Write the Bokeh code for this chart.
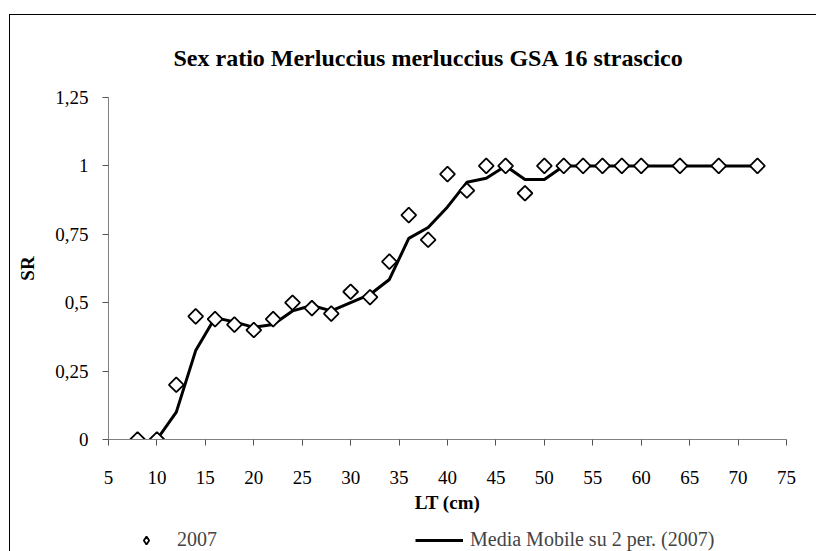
import math
from bokeh.plotting import figure
from bokeh.layouts import column
from bokeh.models import Range1d, FixedTicker, Legend, LegendItem
from bokeh.embed import file_html
from bokeh.resources import INLINE

# data
lt_cm = [8, 10, 12, 14, 16, 18, 20, 22, 24, 26, 28, 30, 32, 34, 36, 38, 40,
         42, 44, 46, 48, 50, 52, 54, 56, 58, 60, 64, 68, 72]
sr_2007 = [0.0, 0.0, 0.2, 0.45, 0.44, 0.42, 0.40, 0.44, 0.50, 0.48, 0.46, 0.54,
           0.52, 0.65, 0.82, 0.73, 0.97, 0.91, 1.0, 1.0, 0.90, 1.0, 1.0, 1.0,
           1.0, 1.0, 1.0, 1.0, 1.0, 1.0]
ma_x = lt_cm[1:]
ma_sr = [0.0, 0.1, 0.325, 0.445, 0.43, 0.41, 0.42, 0.47, 0.49, 0.47, 0.50,
         0.53, 0.585, 0.735, 0.775, 0.85, 0.94, 0.955, 1.0, 0.95, 0.95, 1.0,
         1.0, 1.0, 1.0, 1.0, 1.0, 1.0, 1.0]
x_ticks = [5, 10, 15, 20, 25, 30, 35, 40, 45, 50, 55, 60, 65, 70, 75]
y_ticks = [0, 0.25, 0.5, 0.75, 1.0, 1.25]
y_tick_labels = ["0", "0,25", "0,5", "0,75", "1", "1,25"]
series_names = ["2007", "Media Mobile su 2 per. (2007)"]

FONT = "Liberation Serif"
MARKER = dict(marker="square", angle=math.pi / 4, size=10.5,
              fill_color="white", line_color="black", line_width=1.8)
LEG_MARKER = dict(marker="diamond", size=15,
                  fill_color="white", line_color="black", line_width=1.8)
LINE = dict(line_color="black", line_width=3)

p = figure(width=806, height=506, output_backend="svg", toolbar_location=None,
           x_range=Range1d(5, 75), y_range=Range1d(0, 1.25),
           min_border_left=98, min_border_right=30, min_border_top=82,
           min_border_bottom=82)
p.outline_line_color = None
p.xgrid.visible = False
p.ygrid.visible = False

for ax in (p.xaxis[0], p.yaxis[0]):
    ax.axis_line_color = "#808080"
    ax.major_tick_line_color = "#555555"
    ax.minor_tick_line_color = None
    ax.major_tick_in = 0
    ax.major_tick_out = 6
    ax.major_label_text_font = FONT
    ax.major_label_text_font_size = "19px"
    ax.major_label_text_color = "black"
    ax.axis_label_text_font = FONT
    ax.axis_label_text_font_size = "19px"
    ax.axis_label_text_font_style = "bold"
    ax.axis_label_text_color = "black"

p.xaxis.ticker = FixedTicker(ticks=x_ticks)
p.yaxis.ticker = FixedTicker(ticks=y_ticks)
p.yaxis.major_label_overrides = {t: l for t, l in zip(y_ticks, y_tick_labels)}
p.xaxis.axis_label = "LT (cm)"
p.yaxis.axis_label = "SR"
p.xaxis.major_label_standoff = 25
p.yaxis.major_label_standoff = 14
p.xaxis.axis_label_standoff = 5
p.yaxis.axis_label_standoff = 14

p.title.text = "Sex ratio Merluccius merluccius GSA 16 strascico"
p.title.text_font = FONT
p.title.text_font_size = "24px"
p.title.text_font_style = "bold"
p.title.text_color = "black"
p.title.align = "left"
p.title.offset = 65
p.title.standoff = 54

p.line(ma_x, ma_sr, **LINE)
p.scatter(lt_cm, sr_2007, **MARKER)

# legend strip below the chart; its proxy renderers lie outside this strip's ranges
pl = figure(width=806, height=30, output_backend="svg", toolbar_location=None,
            x_range=Range1d(-2, -1), y_range=Range1d(-2, -1),
            x_axis_type=None, y_axis_type=None,
            min_border_left=0, min_border_right=0, min_border_top=0,
            min_border_bottom=0)
pl.outline_line_color = None
pl.xgrid.visible = False
pl.ygrid.visible = False
leg_pts = pl.scatter(x=lt_cm, y=sr_2007, **LEG_MARKER)
leg_line = pl.line(x=ma_x, y=ma_sr, **LINE)
leg = Legend(items=[LegendItem(label=series_names[0], renderers=[leg_pts]),
                    LegendItem(label=series_names[1], renderers=[leg_line])],
             orientation="horizontal", location=(14, 0),
             glyph_width=48, glyph_height=20, label_standoff=7, label_width=238,
             spacing=0, padding=0, margin=0, border_line_color=None,
             background_fill_alpha=0, label_text_font=FONT,
             label_text_font_size="20px", label_height=20)
pl.add_layout(leg)

layout = column(p, pl, spacing=0)
layout.styles = {"margin-left": "9px", "margin-top": "14px",
                 "border-left": "1px solid black", "border-top": "1px solid black"}

open("out.html", "w").write(file_html(layout, INLINE))
